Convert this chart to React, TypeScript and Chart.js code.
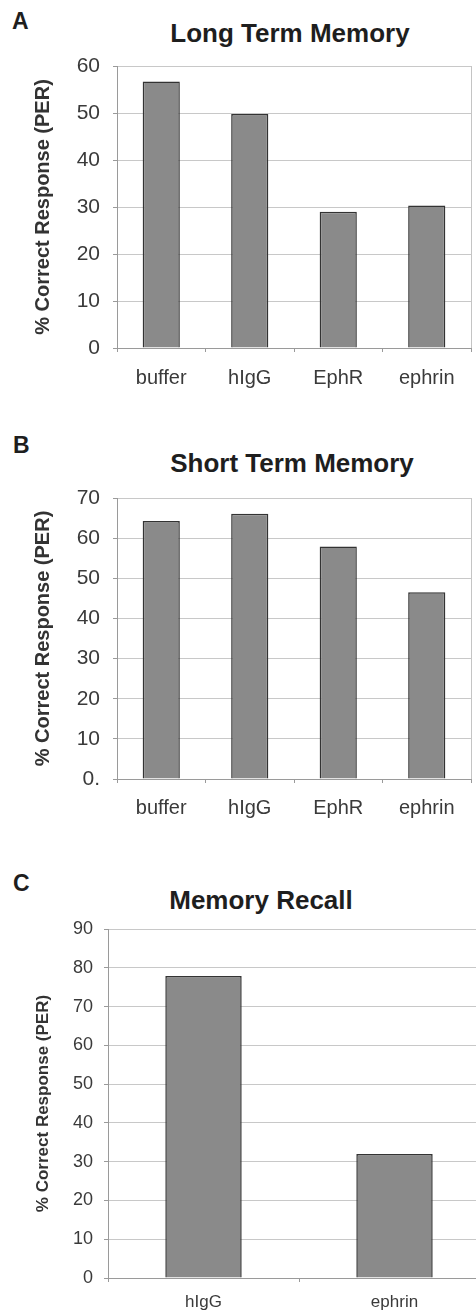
import React, { useEffect, useRef } from 'react';
import { Chart, registerables } from 'chart.js';

Chart.register(...registerables);

// ---- data ----
const longTermLabels = ['buffer', 'hIgG', 'EphR', 'ephrin'];
const longTermValues = [56.7, 49.8, 29.0, 30.3];
const longTermTicks = ['0', '10', '20', '30', '40', '50', '60'];

const shortTermLabels = ['buffer', 'hIgG', 'EphR', 'ephrin'];
const shortTermValues = [64.3, 66.1, 57.9, 46.5];
const shortTermTicks = ['0.', '10', '20', '30', '40', '50', '60', '70'];

const recallLabels = ['hIgG', 'ephrin'];
const recallValues = [77.9, 32.0];
const recallTicks = ['0', '10', '20', '30', '40', '50', '60', '70', '80', '90'];

const panelTitles = ['Long Term Memory', 'Short Term Memory', 'Memory Recall'];
const panelLetters = ['A', 'B', 'C'];
const yAxisTitle = '% Correct Response (PER)';

const FONT = '"Liberation Sans", Arial, Helvetica, sans-serif';

type PanelProps = {
  labels: string[];
  values: number[];
  ticks: string[];
  top: number;
  width: number;
  height: number;
  plotLeft: number;
  plotRight: number;
  plotTop: number;
  plotBottom: number;
  barPct: number;
  tickFont: number;
  xFont: number;
  xPad: number;
  yPad: number;
  titleFont: number;
  titleX: number;
};

function BarPanel(p: PanelProps) {
  const ref = useRef<HTMLCanvasElement | null>(null);
  useEffect(() => {
    if (!ref.current) return;
    const max = (p.ticks.length - 1) * 10;
    const chart = new Chart(ref.current, {
      type: 'bar',
      data: {
        labels: p.labels,
        datasets: [
          {
            data: p.values,
            backgroundColor: '#8a8a8a',
            borderColor: '#333333',
            borderWidth: 1.5,
            barPercentage: p.barPct,
            categoryPercentage: 1,
          },
        ],
      },
      options: {
        responsive: false,
        maintainAspectRatio: false,
        animation: false,
        devicePixelRatio: 1,
        layout: {
          padding: { top: p.plotTop, right: p.width - p.plotRight, bottom: 0, left: 0 },
        },
        plugins: {
          legend: { display: false },
          tooltip: { enabled: false },
          title: { display: false },
        },
        scales: {
          x: {
            afterFit: (s: any) => {
              s.height = p.height - p.plotBottom;
            },
            grid: {
              drawOnChartArea: true,
              color: (c: any) => (c.type === 'scale' ? '#c4c4c4' : 'rgba(0,0,0,0)'),
              tickColor: '#9a9a9a',
              tickLength: 4,
              lineWidth: 1,
            },
            border: { color: '#9a9a9a', width: 1 },
            ticks: {
              color: '#3a3a3a',
              font: { family: FONT, size: p.xFont },
              padding: p.xPad,
              maxRotation: 0,
              autoSkip: false,
            },
          },
          y: {
            min: 0,
            max: max,
            afterFit: (s: any) => {
              s.width = p.plotLeft;
            },
            grid: {
              color: '#c8c8c8',
              tickColor: '#9a9a9a',
              tickLength: 4,
              lineWidth: 1,
            },
            border: { color: '#9a9a9a', width: 1 },
            ticks: {
              stepSize: 10,
              color: '#3a3a3a',
              font: { family: FONT, size: p.tickFont },
              padding: p.yPad,
              callback: (_v: any, i: number) => p.ticks[i],
            },
            title: {
              display: true,
              text: yAxisTitle,
              color: '#333',
              font: { family: FONT, size: p.titleFont, weight: 'bold' },
              padding: { top: p.titleX - (p.titleFont * 1.2) / 2, bottom: 0 },
            },
          },
        },
      },
    } as any);
    return () => chart.destroy();
  }, []);
  return (
    <canvas
      ref={ref}
      width={p.width}
      height={p.height}
      style={{ position: 'absolute', left: 0, top: p.top, width: p.width, height: p.height }}
    />
  );
}

function Label(props: { text: string; x: number; y: number; size: number; center?: boolean }) {
  return (
    <div
      style={{
        position: 'absolute',
        left: props.x,
        top: props.y - 15,
        height: 30,
        lineHeight: '30px',
        fontFamily: FONT,
        fontWeight: 'bold',
        fontSize: props.size,
        color: '#1e1e1e',
        whiteSpace: 'nowrap',
        transform: props.center ? 'translateX(-50%)' : undefined,
      }}
    >
      {props.text}
    </div>
  );
}

export default function App() {
  return (
    <div
      style={{
        position: 'absolute',
        left: 0,
        top: 0,
        width: 476,
        height: 1315,
        overflow: 'hidden',
        background: '#fff',
      }}
    >
      <Label text={panelLetters[0]} x={12} y={21} size={23} />
      <Label text={panelTitles[0]} x={290} y={33} size={26} center />
      <BarPanel
        labels={longTermLabels}
        values={longTermValues}
        ticks={longTermTicks}
        top={0}
        width={476}
        height={400}
        plotLeft={117}
        plotRight={471}
        plotTop={66}
        plotBottom={348}
        barPct={0.42}
        tickFont={21}
        xFont={20}
        xPad={14}
        yPad={13}
        titleFont={20}
        titleX={43}
      />

      <Label text={panelLetters[1]} x={13} y={445} size={23} />
      <Label text={panelTitles[1]} x={292} y={463} size={26} center />
      <BarPanel
        labels={shortTermLabels}
        values={shortTermValues}
        ticks={shortTermTicks}
        top={420}
        width={476}
        height={410}
        plotLeft={117}
        plotRight={471}
        plotTop={78}
        plotBottom={359}
        barPct={0.42}
        tickFont={21}
        xFont={20}
        xPad={13}
        yPad={13}
        titleFont={20}
        titleX={43}
      />

      <Label text={panelLetters[2]} x={13} y={883} size={23} />
      <Label text={panelTitles[2]} x={261} y={900} size={26} center />
      <BarPanel
        labels={recallLabels}
        values={recallValues}
        ticks={recallTicks}
        top={860}
        width={500}
        height={455}
        plotLeft={108}
        plotRight={490}
        plotTop={69}
        plotBottom={418}
        barPct={0.4}
        tickFont={18}
        xFont={17}
        xPad={10}
        yPad={11}
        titleFont={17}
        titleX={43}
      />
    </div>
  );
}
